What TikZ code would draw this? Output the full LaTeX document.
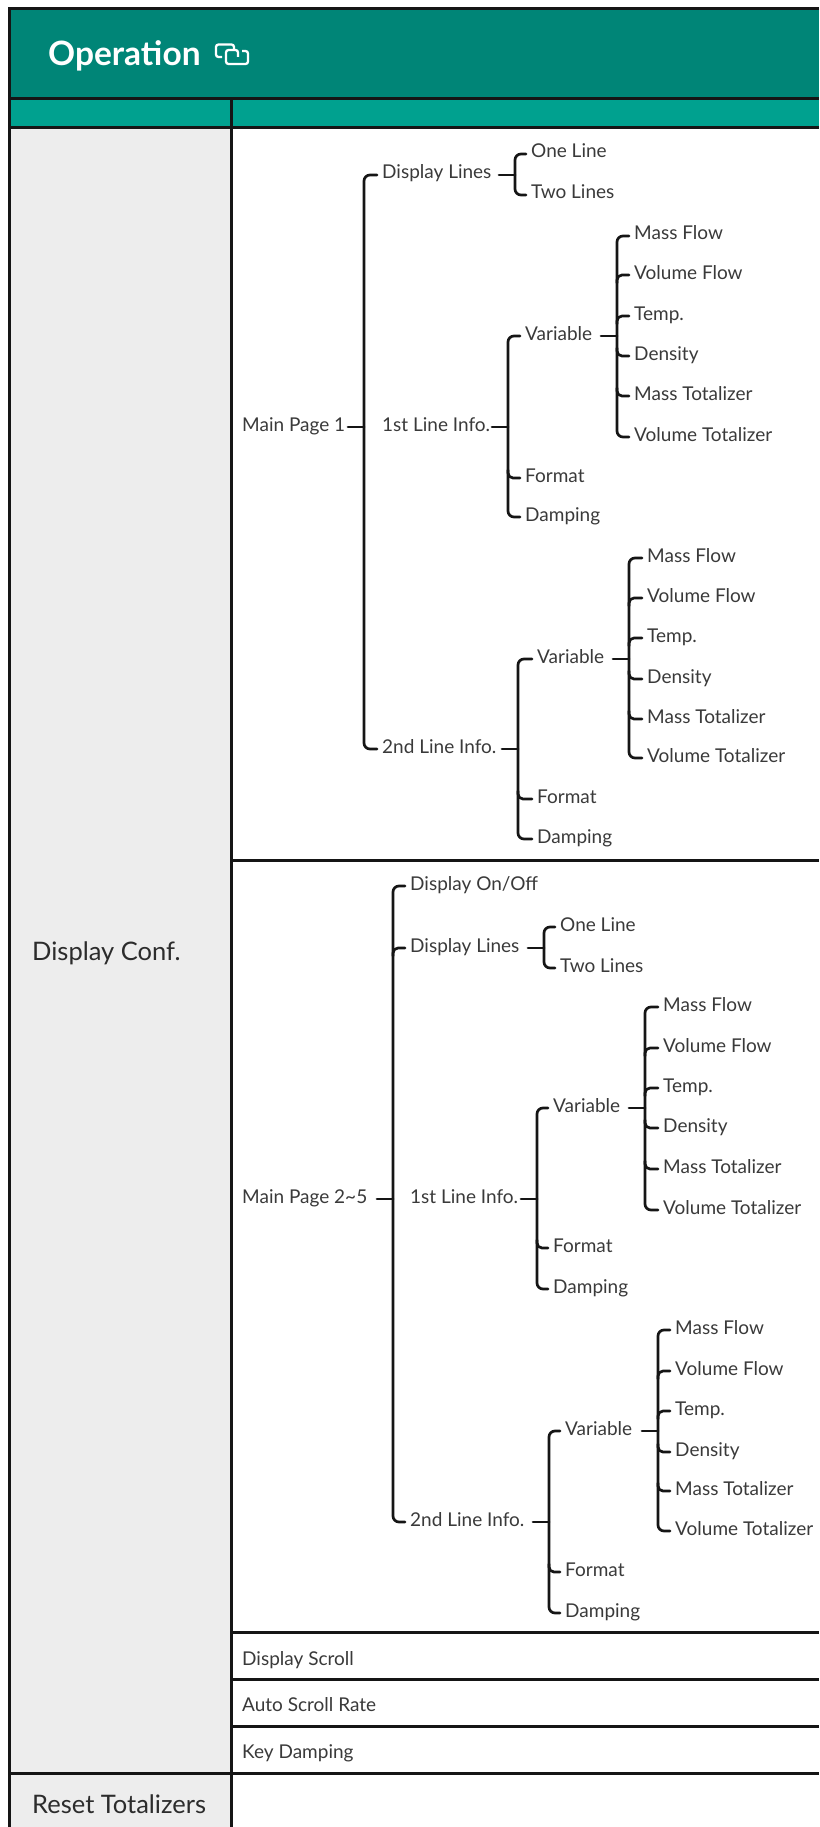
\documentclass[tikz,border=0pt]{standalone}
\usepackage{fontspec}
\usetikzlibrary{calc}
\setmainfont{Lato}
\definecolor{hdr}{HTML}{008577}
\definecolor{sub}{HTML}{00A18F}
\definecolor{side}{HTML}{EDEDED}
\definecolor{ink}{HTML}{3A3A3A}
\definecolor{rule}{HTML}{151515}
\tikzset{
  lab/.style={anchor=west,inner xsep=5pt,inner ysep=0pt,text height=12pt,text depth=4pt,text=ink,font=\fontsize{19}{21}\selectfont},
  sidelab/.style={anchor=west,inner sep=0pt,text=rule!90,font=\fontsize{25.5}{28}\selectfont},
  conn/.style={draw=rule,line width=2.7pt,line cap=round},
  tbl/.style={draw=rule,line width=3pt},
}
\newcommand{\tn}[4]{\node[lab] (#1) at (#2-5,#3+3) {#4};}
\newcommand{\stub}[3]{\coordinate (#2) at (#3,0 |- #1.east); \draw[conn] ($(#2)+(-16,0)$) -- (#2);}
\newcommand{\trunk}[3]{\draw[conn,rounded corners=6pt] (#2.west) -| (#1) |- (#3.west);}
\newcommand{\twig}[3]{\draw[conn,rounded corners=5pt] (#2.west) -- (#2.west -| #1) -- ++(0,#3);}
\begin{document}
\begin{tikzpicture}[x=1pt,y=-1pt]
\useasboundingbox (0,0) rectangle (819,1827);
% table
\fill[white] (0,0) rectangle (819,1827);
\fill[hdr] (9,9) rectangle (819,99);
\fill[sub] (9,99) rectangle (819,128);
\fill[side] (9,128) rectangle (231,1827);
\draw[tbl] (819,9) -- (9,9) -- (9,1827);
\draw[tbl] (9,99) -- (819,99);
\draw[tbl] (9,128) -- (819,128);
\draw[tbl] (231,99) -- (231,1827);
\draw[tbl] (231,860) -- (819,860);
\draw[tbl] (231,1632) -- (819,1632);
\draw[tbl] (231,1679) -- (819,1679);
\draw[tbl] (231,1726) -- (819,1726);
\draw[tbl] (9,1773) -- (819,1773);
% title
\node[anchor=west,inner sep=0pt,text=white,font=\fontsize{33.5}{36}\selectfont\bfseries] (title) at (48,56) {Operation};
\draw[white,line width=2.3pt,rounded corners=2.5pt] (222,57) -- (216,57) -- (216,44.5) -- (234,44.5) -- (234,50);
\draw[white,line width=2.3pt,rounded corners=2.5pt] (242,51) -- (248,51) -- (248,64) -- (226,64) -- (226,50) -- (238,50) -- (238,57);
% left column
\node[sidelab] (dconf) at (32,953) {Display Conf.};
\node[sidelab] (reset) at (32,1804.5) {Reset Totalizers};
% simple rows
\tn{scroll}{242}{1658}{Display Scroll}
\tn{rate}{242}{1704}{Auto Scroll Rate}
\tn{kdamp}{242}{1751}{Key Damping}
% ---------- Main Page 1
\tn{mp}{242}{424}{Main Page 1}
\tn{a}{382}{172}{Display Lines}
\tn{b}{382}{424}{1st Line Info.}
\tn{c}{382}{746}{2nd Line Info.}
\stub{mp}{tm}{364}
\trunk{tm}{a}{c}
\stub{a}{ta}{515}
\tn{a1}{531}{151}{One Line}
\tn{a2}{531}{192}{Two Lines}
\trunk{ta}{a1}{a2}
\stub{b}{tb}{508}
\tn{bv}{525}{333}{Variable}
\tn{bf}{525}{475}{Format}
\tn{bd}{525}{514}{Damping}
\trunk{tb}{bv}{bd}
\twig{tb}{bf}{-8}
\stub{bv}{tbv}{617}
\tn{b1}{634}{233}{Mass Flow}
\tn{b2}{634}{272}{Volume Flow}
\tn{b3}{634}{313}{Temp.}
\tn{b4}{634}{353}{Density}
\tn{b5}{634}{393}{Mass Totalizer}
\tn{b6}{634}{434}{Volume Totalizer}
\trunk{tbv}{b1}{b6}
\twig{tbv}{b2}{8}\twig{tbv}{b3}{8}\twig{tbv}{b4}{-8}\twig{tbv}{b5}{-8}
\stub{c}{tc}{518}
\tn{cv}{537}{656}{Variable}
\tn{cf}{537}{796}{Format}
\tn{cd}{537}{836}{Damping}
\trunk{tc}{cv}{cd}
\twig{tc}{cf}{-8}
\stub{cv}{tcv}{629}
\tn{c1}{647}{555}{Mass Flow}
\tn{c2}{647}{595}{Volume Flow}
\tn{c3}{647}{635}{Temp.}
\tn{c4}{647}{676}{Density}
\tn{c5}{647}{716}{Mass Totalizer}
\tn{c6}{647}{755}{Volume Totalizer}
\trunk{tcv}{c1}{c6}
\twig{tcv}{c2}{8}\twig{tcv}{c3}{8}\twig{tcv}{c4}{-8}\twig{tcv}{c5}{-8}
% ---------- Main Page 2~5
\tn{mq}{242}{1196}{Main Page 2\textasciitilde5}
\tn{d}{410}{883}{Display On/Off}
\tn{e}{410}{945}{Display Lines}
\tn{f}{410}{1196}{1st Line Info.}
\tn{g}{410}{1519}{2nd Line Info.}
\stub{mq}{tq}{393}
\trunk{tq}{d}{g}
\twig{tq}{e}{8}
\stub{e}{te}{544}
\tn{e1}{560}{924}{One Line}
\tn{e2}{560}{965}{Two Lines}
\trunk{te}{e1}{e2}
\stub{f}{tf}{537}
\tn{fv}{553}{1105}{Variable}
\tn{ff}{553}{1245}{Format}
\tn{fd}{553}{1286}{Damping}
\trunk{tf}{fv}{fd}
\twig{tf}{ff}{-8}
\stub{fv}{tfv}{645}
\tn{f1}{663}{1004}{Mass Flow}
\tn{f2}{663}{1045}{Volume Flow}
\tn{f3}{663}{1085}{Temp.}
\tn{f4}{663}{1125}{Density}
\tn{f5}{663}{1166}{Mass Totalizer}
\tn{f6}{663}{1207}{Volume Totalizer}
\trunk{tfv}{f1}{f6}
\twig{tfv}{f2}{8}\twig{tfv}{f3}{8}\twig{tfv}{f4}{-8}\twig{tfv}{f5}{-8}
\stub{g}{tg}{549}
\tn{gv}{565}{1428}{Variable}
\tn{gf}{565}{1569}{Format}
\tn{gd}{565}{1610}{Damping}
\trunk{tg}{gv}{gd}
\twig{tg}{gf}{-8}
\stub{gv}{tgv}{658}
\tn{g1}{675}{1327}{Mass Flow}
\tn{g2}{675}{1368}{Volume Flow}
\tn{g3}{675}{1408}{Temp.}
\tn{g4}{675}{1449}{Density}
\tn{g5}{675}{1488}{Mass Totalizer}
\tn{g6}{675}{1528}{Volume Totalizer}
\trunk{tgv}{g1}{g6}
\twig{tgv}{g2}{8}\twig{tgv}{g3}{8}\twig{tgv}{g4}{-8}\twig{tgv}{g5}{-8}
\end{tikzpicture}
\end{document}
